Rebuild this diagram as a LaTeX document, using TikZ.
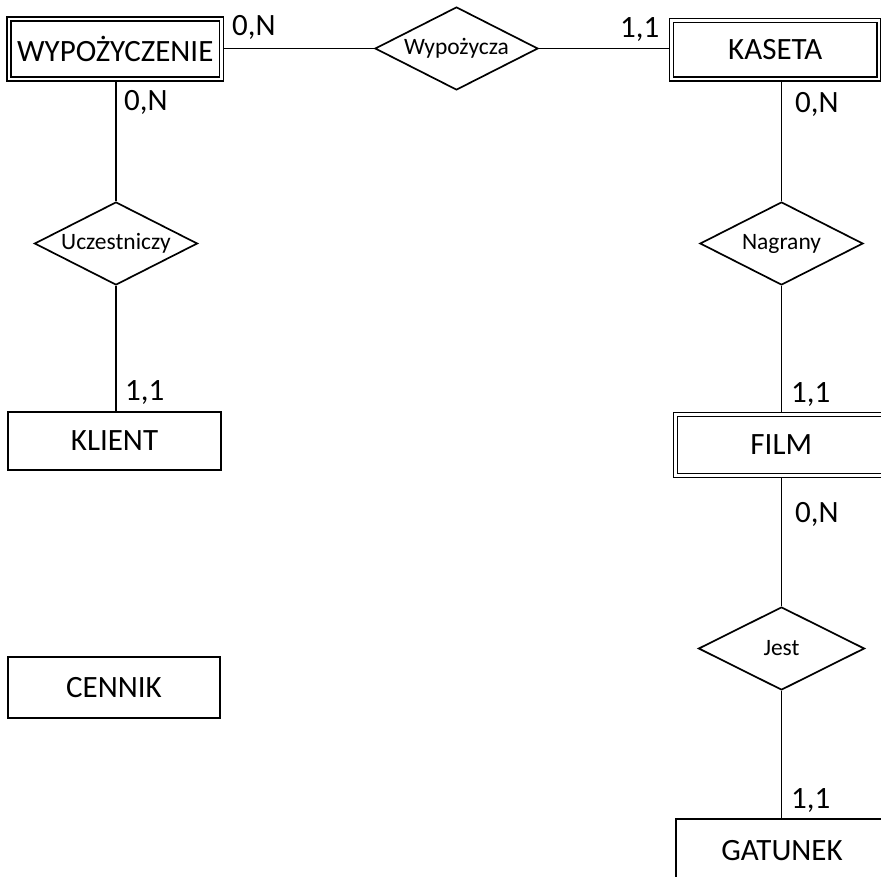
\documentclass[tikz,border=0pt]{standalone}
\usepackage{fontspec}
\setmainfont{Carlito}
\usetikzlibrary{shapes.geometric}

\tikzset{
  entity/.style={draw, rectangle, line width=1.4pt, inner sep=0pt,
    font=\fontsize{31}{37}\selectfont},
  weak/.style={entity, double, double distance=2.4pt},
  relation/.style={draw, diamond, aspect=2, line width=1.7pt, inner sep=0pt,
    minimum width=163pt, minimum height=83pt,
    font=\fontsize{23.5}{28}\selectfont},
  link/.style={line width=1.5pt},
  card/.style={anchor=base west, inner sep=0pt,
    font=\fontsize{31}{36}\selectfont}
}

\begin{document}
\begin{tikzpicture}[x=1pt, y=-1pt]
  \useasboundingbox (0,0) rectangle (881,876);
  \clip (0,0) rectangle (881,876);

  % entities; FILM and GATUNEK run past the right edge, and the trailing
  % space keeps their labels centred on the part that is shown
  \node[weak, minimum width=212.5pt, minimum height=60pt] (wyp) at (115.25,49) {WYPOŻYCZENIE};
  \node[weak, minimum width=207.5pt, minimum height=58.5pt] (kas) at (775.25,49.75) {KASETA};
  \node[weak, minimum width=280pt, minimum height=61pt] (film) at (815.5,445) {FILM\hspace*{68.5pt}};
  \node[entity, minimum width=280pt, minimum height=63pt] (gat) at (816,850.5) {GATUNEK\hspace*{68pt}};
  \node[entity, minimum width=213pt, minimum height=58pt] (kli) at (114.5,441) {KLIENT};
  \node[entity, minimum width=212pt, minimum height=61pt] (cen) at (114,687.5) {CENNIK};

  % relationships
  \node[relation] (wyz) at (456.5,48.5) {Wypożycza};
  \node[relation] (ucz) at (116,243.5) {Uczestniczy};
  \node[relation] (nag) at (781.5,243.5) {Nagrany};
  \node[relation, minimum width=166pt] (jest) at (781.5,648.5) {Jest};

  % connectors
  \draw[link, shorten <=2pt] (wyp.east |- wyz.west) -- (wyz.west);
  \draw[link, shorten >=2pt] (wyz.east) -- (kas.west |- wyz.east);
  \draw[link, shorten <=2pt] (wyp.south -| ucz.north) -- (ucz.north);
  \draw[link] (ucz.south) -- (kli.north -| ucz.south);
  \draw[link, shorten <=2pt] (kas.south -| nag.north) -- (nag.north);
  \draw[link, shorten >=2pt] (nag.south) -- (film.north -| nag.south);
  \draw[link, shorten <=2pt] (film.south -| jest.north) -- (jest.north);
  \draw[link] (jest.south) -- (gat.north -| jest.south);

  % cardinalities
  \node[card] (c1) at (232,35) {0,N};
  \node[card] (c2) at (620,37) {1,1};
  \node[card] (c3) at (124,110) {0,N};
  \node[card] (c4) at (125,400) {1,1};
  \node[card] (c5) at (795,112) {0,N};
  \node[card] (c6) at (791,402) {1,1};
  \node[card] (c7) at (795,522) {0,N};
  \node[card] (c8) at (791,808) {1,1};
\end{tikzpicture}
\end{document}
